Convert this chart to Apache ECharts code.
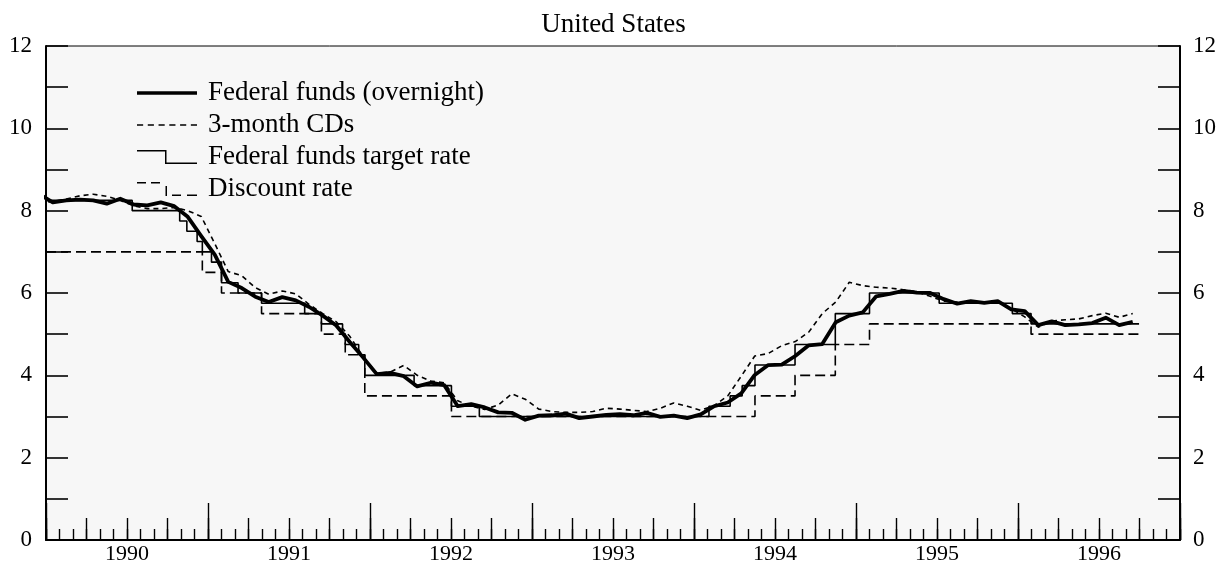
<!DOCTYPE html>
<html><head><meta charset="utf-8">
<script src="https://cdn.jsdelivr.net/npm/echarts@6/dist/echarts.min.js"></script>
<style>html,body{margin:0;padding:0;background:#fff}#c{width:1227px;height:574px}</style>
</head><body><div id="c"></div>
<script>
// ---------------- data ----------------
const yearLabels = ['1990','1991','1992','1993','1994','1995','1996'];
const yTickLabels = ['0','2','4','6','8','10','12'];
const seriesNames = ['Federal funds (overnight)','3-month CDs','Federal funds target rate','Discount rate'];

// monthly averages, first observation = Dec 1989, plotted mid-month
const monthlyStart = '1989-12';
const fedFunds = [8.40,
  8.20,8.25,8.27,8.25,8.17,8.29,8.15,8.13,8.20,8.11,7.85,7.38,
  6.93,6.27,6.12,5.91,5.78,5.90,5.82,5.66,5.45,5.21,4.81,4.43,
  4.03,4.06,3.98,3.73,3.82,3.76,3.25,3.30,3.22,3.10,3.09,2.92,
  3.02,3.03,3.07,2.96,3.00,3.04,3.06,3.03,3.09,2.99,3.02,2.96,
  3.05,3.25,3.34,3.56,4.01,4.25,4.26,4.47,4.73,4.76,5.29,5.45,
  5.53,5.92,5.98,6.05,6.01,6.00,5.85,5.74,5.80,5.76,5.80,5.60,
  5.56,5.22,5.31,5.22,5.24,5.27,5.40,5.22,5.30];
const cds3m = [8.20,
  8.22,8.28,8.36,8.40,8.35,8.25,8.12,8.05,8.05,8.08,8.00,7.86,
  7.20,6.52,6.42,6.13,5.97,6.05,5.98,5.72,5.50,5.30,4.95,4.45,
  4.05,4.08,4.24,4.00,3.86,3.82,3.38,3.25,3.17,3.28,3.55,3.42,
  3.18,3.12,3.10,3.10,3.12,3.20,3.18,3.15,3.12,3.20,3.33,3.25,
  3.15,3.27,3.50,3.98,4.47,4.53,4.72,4.82,5.05,5.50,5.78,6.26,
  6.18,6.14,6.12,6.08,6.03,5.92,5.80,5.78,5.78,5.76,5.78,5.62,
  5.42,5.17,5.32,5.35,5.37,5.45,5.51,5.41,5.50];

// policy rates: level in force from each date
const targetDates = ['1990-01-01','1990-07-13','1990-10-29','1990-11-14','1990-12-07','1990-12-19',
  '1991-01-09','1991-02-01','1991-03-08','1991-04-30','1991-08-06','1991-09-13','1991-10-31',
  '1991-11-06','1991-12-06','1991-12-20','1992-04-09','1992-07-02','1992-09-04',
  '1994-02-04','1994-03-22','1994-04-18','1994-05-17','1994-08-16','1994-11-15',
  '1995-02-01','1995-07-06','1995-12-19','1996-01-31'];
const targetLevels = [8.25,8.00,7.75,7.50,7.25,7.00,
  6.75,6.25,6.00,5.75,5.50,5.25,5.00,
  4.75,4.50,4.00,3.75,3.25,3.00,
  3.25,3.50,3.75,4.25,4.75,5.50,
  6.00,5.75,5.50,5.25];
const discountDates = ['1990-01-01','1990-12-19','1991-02-01','1991-04-30','1991-09-13','1991-11-06',
  '1991-12-20','1992-07-02','1994-05-17','1994-08-16','1994-11-15','1995-02-01','1996-01-31'];
const discountLevels = [7.00,6.50,6.00,5.50,5.00,4.50,3.50,3.00,3.50,4.00,4.75,5.25,5.00];
const dataEnd = '1996-09-30';

// ---------------- helpers ----------------
const FONT = 'Liberation Serif';
function monthPos(s){
  const p = s.split('-').map(Number);
  const dim = new Date(p[0], p[1], 0).getDate();
  return (p[0]-1990)*12 + (p[1]-1) + (p[2]-1)/dim;
}
function monthlyPoints(startYM, vals){
  const p = startYM.split('-').map(Number);
  const base = (p[0]-1990)*12 + (p[1]-1);
  return vals.map((v,i)=>[base+i+0.5, v]);
}
function stepPoints(dates, levels, end){
  const pts = dates.map((d,i)=>[monthPos(d), levels[i]]);
  pts.push([monthPos(end), levels[levels.length-1]]);
  return pts;
}

const chart = echarts.init(document.getElementById('c'), null, {renderer:'canvas'});

const tickAxis = (interval, len, extra) => Object.assign({
  type:'value', min:0, max:84, interval:interval, position:'bottom',
  axisLine:{show:false, onZero:false},
  axisTick:{show:true, inside:true, length:len, lineStyle:{color:'#000', width:1.4}},
  axisLabel:{show:false}, splitLine:{show:false}
}, extra||{});

const yAx = (pos, margin) => ({
  type:'value', min:0, max:12, interval:1, position:pos,
  axisLine:{show:true, onZero:false, lineStyle:{color:'#000', width:2}},
  axisTick:{show:true, inside:true, length:22, lineStyle:{color:'#000', width:1.6}},
  axisLabel:{margin:margin, fontFamily:FONT, fontSize:23, color:'#000',
    formatter:v => yTickLabels.indexOf(String(v)) >= 0 ? String(v) : ''},
  splitLine:{show:false}
});

const legendRows = [79, 111, 143, 175];
const legendIcons = [
  'path://M0 0H60V3.6H0Z',
  'path://M0 0H6V1.5H0Z M10.5 0H16.5V1.5H10.5Z M21 0H27V1.5H21Z M31.5 0H37.5V1.5H31.5Z M42 0H48V1.5H42Z M52.5 0H58.5V1.5H52.5Z',
  'path://M0 0H29.5V12.5H60V14H28V1.5H0Z',
  'path://M0 0H9V1.5H0Z M14 0H23V1.5H14Z M28.5 4H30V14H28.5Z M35 12.5H44V14H35Z M50 12.5H60V14H50Z'
];
const legends = seriesNames.map((n,i)=>({
  show:true, orient:'vertical', left:137, top:legendRows[i], padding:0,
  itemWidth:60, itemHeight:14, selectedMode:false,
  itemStyle:{borderWidth:0},
  data:[{name:n, icon:legendIcons[i]}],
  textStyle:{fontFamily:FONT, fontSize:27, lineHeight:28, color:'#000', padding:[0,0,0,6]}
}));

const option = {
  animation:false,
  backgroundColor:'#ffffff',
  color:['#000'],
  title:{text:'United States', left:'center', top:6,
    textStyle:{fontFamily:FONT, fontSize:27, fontWeight:'normal', color:'#000', lineHeight:28}},
  legend:legends,
  grid:{left:46, right:47, top:46, bottom:34, show:true, backgroundColor:'#f7f7f7',
    borderColor:'#000', borderWidth:1, containLabel:false},
  xAxis:[
    tickAxis(1, 11, {axisLine:{show:true, onZero:false, lineStyle:{color:'#000', width:2}}}),
    tickAxis(3, 22),
    tickAxis(12, 37),
    tickAxis(6, 0, {axisTick:{show:false},
      axisLabel:{show:true, margin:3, fontFamily:FONT, fontSize:22, color:'#000',
        showMinLabel:true, showMaxLabel:true,
        formatter:v => (v % 12 === 6) ? yearLabels[(v-6)/12] : ''}})
  ],
  yAxis:[yAx('left', 14), yAx('right', 13)],
  series:[
    {name:seriesNames[3], type:'line', step:'end', xAxisIndex:0, yAxisIndex:0,
     data:stepPoints(discountDates, discountLevels, dataEnd), symbol:'none', clip:true,
     itemStyle:{color:'#000'}, lineStyle:{color:'#000', width:1.6, type:[10,5]}, z:2},
    {name:seriesNames[2], type:'line', step:'end', xAxisIndex:0, yAxisIndex:0,
     data:stepPoints(targetDates, targetLevels, dataEnd), symbol:'none', clip:true,
     itemStyle:{color:'#000'}, lineStyle:{color:'#000', width:1.6}, z:3},
    {name:seriesNames[1], type:'line', xAxisIndex:0, yAxisIndex:0,
     data:monthlyPoints(monthlyStart, cds3m), symbol:'none', clip:true,
     itemStyle:{color:'#000'}, lineStyle:{color:'#000', width:1.6, type:[5,4]}, z:4},
    {name:seriesNames[0], type:'line', xAxisIndex:0, yAxisIndex:0,
     data:monthlyPoints(monthlyStart, fedFunds), symbol:'none', clip:true,
     itemStyle:{color:'#000'}, lineStyle:{color:'#000', width:3.8, join:'round'}, z:5}
  ]
};
chart.setOption(option);
</script>
</body></html>
